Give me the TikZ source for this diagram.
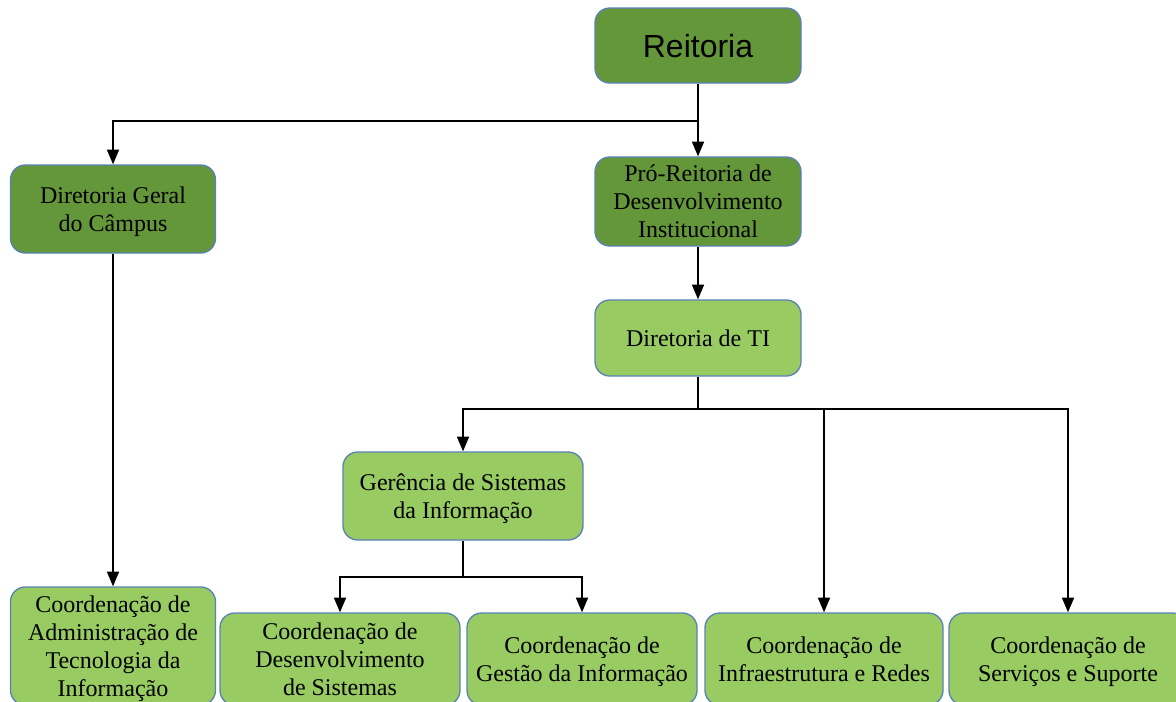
\documentclass[tikz,border=0pt]{standalone}
\usepackage{fontspec}
\setmainfont{Liberation Serif}
\newfontfamily\arialf{Liberation Sans}
\usetikzlibrary{arrows.meta}
\definecolor{dkgreen}{HTML}{64963A}
\definecolor{ltgreen}{HTML}{98CB62}
\definecolor{bordblue}{HTML}{5A82B5}
\begin{document}
\begin{tikzpicture}[x=0.75pt,y=-0.75pt,
  box/.style={draw=bordblue, line width=1pt, rounded corners=11pt, align=center,
    inner sep=0pt, text depth=0pt, font=\fontsize{18}{21}\selectfont},
  dark/.style={box, fill=dkgreen},
  light/.style={box, fill=ltgreen},
  conn/.style={line width=1.1pt, black},
  arr/.style={conn, -{Triangle[width=9pt,length=11pt]}}]
\useasboundingbox (0,0) rectangle (1176,701);
\clip (0,0) rectangle (1176,701);
% nodes
\node[dark, minimum width=154.5pt, minimum height=56.25pt, font=\arialf\fontsize{24}{28}\selectfont] (reit) at (698,45.5) {Reitoria};
\node[dark, minimum width=154.5pt, minimum height=66.75pt] (pro) at (698,201.5) {Pró-Reitoria de\\Desenvolvimento\\Institucional};
\node[dark, minimum width=153.75pt, minimum height=66pt] (dg) at (113,209) {Diretoria Geral\\do Câmpus};
\node[light, minimum width=154.5pt, minimum height=57pt] (dti) at (698,338) {Diretoria de TI};
\node[light, minimum width=180pt, minimum height=66pt] (ger) at (463,496) {Gerência de Sistemas\\da Informação};
\node[light, minimum width=153.75pt, minimum height=88.5pt] (adm) at (113,646) {Coordenação de\\Administração de\\Tecnologia da\\Informação};
\node[light, minimum width=180pt, minimum height=69pt] (des) at (340,659) {Coordenação de\\Desenvolvimento\\de Sistemas};
\node[light, minimum width=172.5pt, minimum height=69pt] (ges) at (582,659) {Coordenação de\\Gestão da Informação};
\node[light, minimum width=178.5pt, minimum height=69pt] (inf) at (824,659) {Coordenação de\\Infraestrutura e Redes};
\node[light, minimum width=178.5pt, minimum height=69pt] (ser) at (1068,659) {Coordenação de\\Serviços e Suporte};
% junctions
\coordinate (j0) at (698,121);
\coordinate (j1) at (698,409);
\coordinate (j2) at (463,577);
% connectors
\draw[conn] (reit.south) -- (j0);
\draw[arr] (j0) -- (pro.north);
\draw[arr] (j0) -| (dg.north);
\draw[arr] (pro.south) -- (dti.north);
\draw[arr] (dg.south) -- (adm.north);
\draw[conn] (dti.south) -- (j1);
\draw[arr] (j1) -| (ger.north);
\draw[arr] (j1) -| (inf.north);
\draw[arr] (j1) -| (ser.north);
\draw[conn] (ger.south) -- (j2);
\draw[arr] (j2) -| (des.north);
\draw[arr] (j2) -| (ges.north);
\end{tikzpicture}
\end{document}
